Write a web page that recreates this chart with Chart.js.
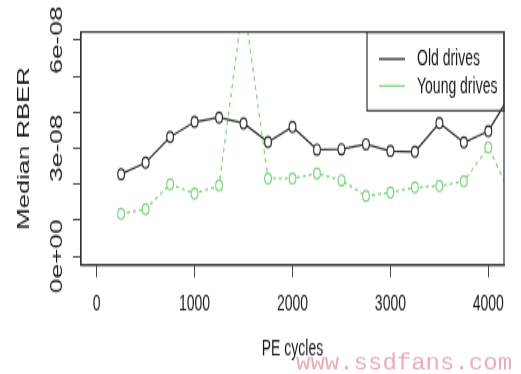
<!DOCTYPE html>
<html>
<head>
<meta charset="utf-8">
<script src="https://cdn.jsdelivr.net/npm/chart.js@4.4.0/dist/chart.umd.min.js"></script>
<style>
  html, body { margin: 0; padding: 0; background: #fff; }
  body { width: 521px; height: 374px; }
  /* the source picture is stretched vertically, so draw flat and stretch the same way */
  #wrap { width: 521px; height: 241px; transform: scale(1, 1.5519); transform-origin: 0 0; }
</style>
</head>
<body>
<div id="wrap"><canvas id="rberChart"></canvas></div>
<script>
const STRETCH = 374 / 241;

// PE cycles of each measured point
const peCycles = [250, 500, 750, 1000, 1250, 1500, 1750, 2000, 2250, 2500, 2750, 3000, 3250, 3500, 3750, 4000, 4250];
// median RBER
const oldDrives = [2.28e-8, 2.60e-8, 3.31e-8, 3.73e-8, 3.85e-8, 3.69e-8, 3.17e-8, 3.59e-8, 2.96e-8, 2.97e-8, 3.11e-8, 2.92e-8, 2.90e-8, 3.70e-8, 3.16e-8, 3.47e-8, 4.6e-8];
const youngDrives = [1.18e-8, 1.31e-8, 2.00e-8, 1.74e-8, 1.96e-8, 7.1e-8, 2.16e-8, 2.16e-8, 2.30e-8, 2.11e-8, 1.67e-8, 1.77e-8, 1.91e-8, 1.95e-8, 2.08e-8, 3.02e-8, 1.6e-8];
const seriesNames = ['Old drives', 'Young drives'];
const xTickValues = [0, 1000, 2000, 3000, 4000];
const yTickValues = [0, 1e-8, 2e-8, 3e-8, 4e-8, 5e-8, 6e-8];
// only every third y tick gets a label, as in the source
const yLabelValues = [0, 3e-8, 6e-8];
const yLabelTexts = ['0e+00', '3e-08', '6e-08'];

const FONT = '"Liberation Sans", Arial, sans-serif';
const INK = '#1a1a1a';
const OLD_COLOR = '#2e2e2e';
const YOUNG_COLOR = '#7fd47f';

function toPoints(values) {
    return peCycles.map((x, i) => ({ x: x, y: values[i] }));
}

// R style extras: rotated y labels, closed box, legend, watermark
const rStylePlugin = {
    id: 'rStyle',
    afterDraw(chart) {
        const ctx = chart.ctx;
        const area = chart.chartArea;
        const yScale = chart.scales.y;

        ctx.save();
        ctx.strokeStyle = '#333';
        ctx.lineWidth = 1.2;
        ctx.strokeRect(area.left, area.top, area.right - area.left, area.bottom - area.top);

        // y tick labels, parallel to the axis
        ctx.fillStyle = INK;
        ctx.font = '17px ' + FONT;
        ctx.textAlign = 'center';
        ctx.textBaseline = 'middle';
        yLabelValues.forEach((v, i) => {
            const py = yScale.getPixelForValue(v);
            ctx.save();
            ctx.translate(57, py);
            ctx.rotate(-Math.PI / 2);
            ctx.fillText(yLabelTexts[i], 0, 0);
            ctx.restore();
        });

        // legend box in the top right corner
        const boxW = 137, boxH = 50.7;
        const bx = area.right - boxW, by = area.top;
        ctx.strokeStyle = '#333';
        ctx.strokeRect(bx, by, boxW, boxH);
        const rows = [
            { label: seriesNames[0], color: OLD_COLOR },
            { label: seriesNames[1], color: YOUNG_COLOR }
        ];
        ctx.font = '14px ' + FONT;
        ctx.textAlign = 'left';
        rows.forEach((row, i) => {
            const ry = by + 17.4 + i * 17.4;
            ctx.strokeStyle = row.color;
            ctx.lineWidth = 1.3;
            ctx.beginPath();
            ctx.moveTo(bx + 12, ry);
            ctx.lineTo(bx + 38, ry);
            ctx.stroke();
            ctx.fillStyle = INK;
            ctx.fillText(row.label, bx + 50, ry + 0.5);
        });

        // site watermark, not stretched
        ctx.save();
        ctx.scale(1, 1 / STRETCH);
        ctx.fillStyle = 'rgba(226, 150, 165, 0.8)';
        ctx.font = '24px "Liberation Mono", "Courier New", monospace';
        ctx.textAlign = 'left';
        ctx.textBaseline = 'alphabetic';
        ctx.fillText('www.ssdfans.com', 296, 370);
        ctx.restore();

        ctx.restore();
    }
};

const ctx = document.getElementById('rberChart').getContext('2d');
const rberChart = new Chart(ctx, {
    type: 'line',
    data: {
        datasets: [{
            label: seriesNames[0],
            data: toPoints(oldDrives),
            borderColor: OLD_COLOR,
            borderWidth: 1.3,
            pointRadius: 3.4,
            pointBorderWidth: 1.2,
            pointBorderColor: OLD_COLOR,
            pointBackgroundColor: '#fff',
            tension: 0
        }, {
            label: seriesNames[1],
            data: toPoints(youngDrives),
            borderColor: YOUNG_COLOR,
            borderWidth: 1.3,
            borderDash: [3, 3],
            pointRadius: 3.4,
            pointBorderWidth: 1.2,
            pointBorderColor: YOUNG_COLOR,
            pointBackgroundColor: '#fff',
            tension: 0
        }]
    },
    options: {
        responsive: true,
        maintainAspectRatio: false,
        animation: false,
        devicePixelRatio: 1,
        layout: {
            padding: { top: 20.6, right: 17, bottom: 0, left: 0 }
        },
        plugins: {
            legend: { display: false },
            tooltip: { enabled: false }
        },
        scales: {
            x: {
                type: 'linear',
                min: -160,
                max: 4160,
                afterBuildTicks: function(scale) {
                    scale.ticks = xTickValues.map(v => ({ value: v }));
                },
                afterFit: function(scale) { scale.height = 70.3; },
                ticks: {
                    maxRotation: 0,
                    autoSkip: false,
                    padding: 9,
                    color: INK,
                    font: { family: FONT, size: 14 },
                    callback: function(value) { return String(value); }
                },
                grid: {
                    drawOnChartArea: false,
                    tickLength: 8,
                    color: '#444',
                    lineWidth: 1
                },
                border: { color: '#333', width: 1.2 },
                title: {
                    display: true,
                    text: 'PE cycles',
                    color: INK,
                    font: { family: FONT, size: 14 },
                    padding: { top: 0, bottom: 7 }
                }
            },
            y: {
                type: 'linear',
                min: -0.24e-8,
                max: 6.224e-8,
                afterBuildTicks: function(scale) {
                    scale.ticks = yTickValues.map(v => ({ value: v }));
                },
                afterFit: function(scale) { scale.width = 81; },
                ticks: {
                    display: false
                },
                grid: {
                    drawOnChartArea: false,
                    tickLength: 8,
                    color: '#444',
                    lineWidth: 1
                },
                border: { color: '#333', width: 1.2 },
                title: {
                    display: true,
                    text: 'Median RBER',
                    color: INK,
                    font: { family: FONT, size: 16.5 },
                    padding: { top: 15, bottom: 0 }
                }
            }
        }
    },
    plugins: [rStylePlugin]
});
</script>
</body>
</html>
